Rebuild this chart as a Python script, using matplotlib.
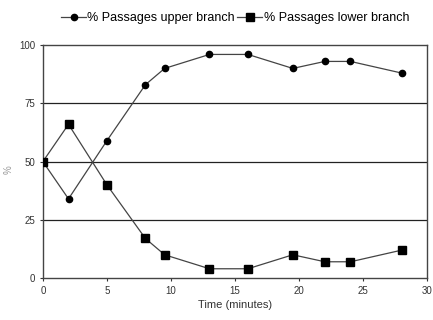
import matplotlib
matplotlib.use('Agg')
import matplotlib.pyplot as plt

plt.rcParams['font.family'] = ['Liberation Sans', 'DejaVu Sans']

time_min = [0, 2, 5, 8, 9.5, 13, 16, 19.5, 22, 24, 28]
upper = [50, 34, 59, 83, 90, 96, 96, 90, 93, 93, 88]
lower = [50, 66, 40, 17, 10, 4, 4, 10, 7, 7, 12]
xticks = [0, 5, 10, 15, 20, 25, 30]
yticks = [0, 25, 50, 75, 100]

fig = plt.figure(figsize=(4.33, 3.2), dpi=100)
ax = fig.add_axes([0.099, 0.131, 0.888, 0.728])

for y in [25, 50, 75]:
    ax.axhline(y, color='#222222', lw=0.9, zorder=1)

ax.plot(time_min, upper, color='#444444', lw=0.9, marker='o', ms=4.5,
        mfc='black', mec='black', label='% Passages upper branch', zorder=3)
ax.plot(time_min, lower, color='#444444', lw=0.9, marker='s', ms=5.5,
        mfc='black', mec='black', label='% Passages lower branch', zorder=3)

ax.set_xlim(0, 30)
ax.set_ylim(0, 100)
ax.set_xticks(xticks)
ax.set_yticks(yticks)
ax.tick_params(labelsize=7, colors='#333333', length=2, direction='out')
for s in ax.spines.values():
    s.set_color('#444444')
    s.set_linewidth(1.0)

ax.set_xlabel('Time (minutes)', fontsize=8, color='#333333', labelpad=3)
fig.text(0.02, 0.47, '%', rotation=90, fontsize=7, color='#999999',
         ha='center', va='center')

ax.legend(loc='lower center', bbox_to_anchor=(0.5, 1.09), ncol=2, frameon=False,
          fontsize=9, handlelength=2.0, handletextpad=0.1, columnspacing=0.2,
          borderaxespad=0, borderpad=0)

fig.savefig('out.png', dpi=100)
